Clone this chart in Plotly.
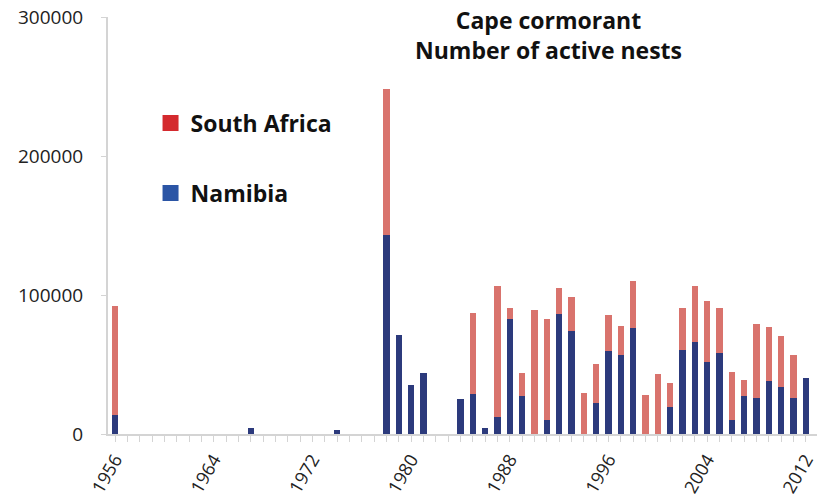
import plotly.graph_objects as go

years = [1956, 1967, 1974, 1978, 1979, 1980, 1981, 1984, 1985, 1986, 1987, 1988, 1989,
         1990, 1991, 1992, 1993, 1994, 1995, 1996, 1997, 1998, 1999, 2000, 2001, 2002,
         2003, 2004, 2005, 2006, 2007, 2008, 2009, 2010, 2011, 2012]
namibia = [14000, 4000, 3000, 143000, 71000, 35000, 44000, 25000, 28500, 4500, 12000, 82500, 27000,
           0, 10000, 86500, 74000, 0, 22000, 59500, 56500, 76000, 0, 0, 19700, 60500,
           66500, 52000, 58000, 10000, 27000, 25600, 38400, 34000, 25600, 40000]
totals = [92000, 4000, 3000, 248000, 71000, 35000, 44000, 25000, 87000, 4500, 106500, 91000, 44000,
          89500, 82500, 105000, 98500, 29300, 50500, 85300, 78000, 110300, 28000, 43200, 36500, 90400,
          106500, 96000, 91000, 44800, 38800, 79000, 77200, 70500, 56800, 40000]
south_africa = [t - n for t, n in zip(totals, namibia)]

tick_years = [1956, 1964, 1972, 1980, 1988, 1996, 2004, 2012]
y_ticks = [0, 100000, 200000, 300000]

fig = go.Figure()
fig.add_trace(go.Bar(x=years, y=namibia, name="Namibia", marker=dict(color="#2c3a7c", line=dict(width=0)),
                     showlegend=False))
fig.add_trace(go.Bar(x=years, y=south_africa, name="South Africa", marker=dict(color="#d9736d", line=dict(width=0)),
                     showlegend=False))
fig.add_trace(go.Scatter(x=[None], y=[None], mode="markers", name="<b>South Africa</b>", legendgroup="sa",
                         marker=dict(symbol="square", size=16, color="#d42a2e")))
fig.add_trace(go.Scatter(x=[None], y=[None], mode="markers", name="<b>Namibia</b>", legendgroup="na",
                         marker=dict(symbol="square", size=16, color="#2b55a5")))

fig.update_layout(
    width=817, height=502,
    barmode="stack", bargap=0.5,
    plot_bgcolor="white", paper_bgcolor="white",
    margin=dict(l=108, r=0, t=17, b=68, autoexpand=False),
    font=dict(family="Open Sans", size=19, color="#222"),
    legend=dict(x=0.06, y=0.797, xanchor="left", yanchor="top", bgcolor="rgba(0,0,0,0)",
                font=dict(size=23, color="#111", family="Open Sans"), tracegroupgap=37,
                itemwidth=30),
    annotations=[dict(text="<b>Cape cormorant<br>Number of active nests</b>", xref="paper", yref="paper",
                      x=0.622, y=1.037, xanchor="center", yanchor="top", showarrow=False,
                      font=dict(size=23, color="#111", family="Open Sans"))],
    xaxis=dict(range=[1955.43, 2012.9], tickmode="array", tickvals=tick_years,
               ticktext=[str(t) for t in tick_years], tickangle=-60, automargin=False,
               ticklabeloverflow="allow",
               showgrid=False, zeroline=False, showline=True, linecolor="#d4d4d4", linewidth=2,
               ticks="outside", ticklen=6, tickcolor="#d4d4d4",
               minor=dict(dtick=1, tick0=1956, ticks="outside", ticklen=6, tickcolor="#d4d4d4"),
               tickfont=dict(size=18)),
    yaxis=dict(range=[0, 300000], tickvals=y_ticks, tickformat="d", automargin=False,
               showgrid=False, zeroline=False,
               showline=True, linecolor="#d4d4d4", linewidth=2, ticks="outside", ticklen=5,
               tickcolor="#d4d4d4", ticklabelstandoff=14, tickfont=dict(size=19)),
)

fig.write_html("out.html", config={"displayModeBar": False},
               post_script="document.body.style.margin='0';")
